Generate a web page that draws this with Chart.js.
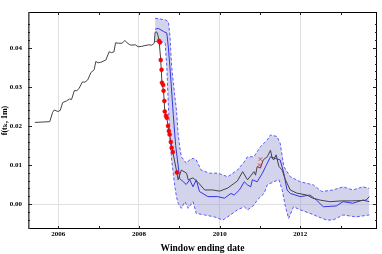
<!DOCTYPE html>
<html>
<head>
<meta charset="utf-8">
<script src="https://cdn.jsdelivr.net/npm/chart.js@4"></script>
<style>
  html, body { margin:0; padding:0; background:#fff; }
  #wrap { width:382px; height:254px; }
</style>
</head>
<body>
<div id="wrap"><canvas id="c" width="382" height="254"></canvas></div>
<script>
// black line: f(t_k, 1m)
const blackX = [2005.42,2005.60,2005.79,2005.86,2005.90,2005.99,2006.05,2006.11,2006.20,2006.28,2006.33,2006.40,2006.46,2006.52,2006.60,2006.66,2006.73,2006.81,2006.89,2006.93,2006.99,2007.05,2007.18,2007.26,2007.32,2007.38,2007.42,2007.50,2007.58,2007.65,2007.73,2007.80,2007.91,2007.98,2008.07,2008.15,2008.24,2008.32,2008.38,2008.40,2008.44,2008.47,2008.50,2008.54,2008.57,2008.61,2008.64,2008.69,2008.74,2008.79,2008.84,2008.94,2008.97,2009.05,2009.18,2009.22,2009.34,2009.46,2009.63,2009.83,2010.00,2010.20,2010.36,2010.44,2010.57,2010.69,2010.85,2010.89,2010.93,2011.01,2011.08,2011.18,2011.26,2011.30,2011.34,2011.40,2011.47,2011.55,2011.63,2011.75,2011.91,2012.16,2012.31,2012.49,2012.73,2013.02,2013.26,2013.51,2013.63,2013.71];
const blackY = [0.0209,0.0210,0.0211,0.0235,0.0241,0.0237,0.0240,0.0260,0.0264,0.0269,0.0268,0.0291,0.0290,0.0297,0.0313,0.0312,0.0318,0.0337,0.0344,0.0365,0.0362,0.0363,0.0369,0.0390,0.0388,0.0390,0.0413,0.0412,0.0412,0.0419,0.0411,0.0407,0.0408,0.0403,0.0404,0.0406,0.0408,0.0407,0.0412,0.0440,0.0441,0.0433,0.0418,0.0369,0.0311,0.0290,0.0237,0.0221,0.0187,0.0159,0.0133,0.0081,0.0062,0.0087,0.0079,0.0062,0.0067,0.0056,0.0036,0.0036,0.0033,0.0041,0.0053,0.0059,0.0083,0.0062,0.0083,0.0074,0.0096,0.0092,0.0113,0.0121,0.0138,0.0118,0.0113,0.0126,0.0096,0.0087,0.0062,0.0036,0.0028,0.0023,0.0015,0.0010,0.0006,0.0008,0.0008,0.0009,0.0010,0.0019];

// blue centre line
const blueX = [2008.40,2008.48,2008.61,2008.69,2008.73,2008.79,2008.85,2008.91,2008.97,2009.01,2009.10,2009.17,2009.26,2009.34,2009.42,2009.50,2009.71,2009.95,2010.12,2010.28,2010.36,2010.49,2010.61,2010.69,2010.77,2010.81,2010.93,2011.06,2011.14,2011.26,2011.38,2011.50,2011.59,2011.67,2011.75,2012.00,2012.24,2012.40,2012.57,2012.89,2013.06,2013.30,2013.55,2013.71];
const blueY = [0.0448,0.0450,0.0442,0.0438,0.0400,0.0320,0.0230,0.0150,0.0100,0.0065,0.0057,0.0050,0.0062,0.0044,0.0062,0.0032,0.0019,0.0019,0.0015,0.0027,0.0023,0.0036,0.0057,0.0049,0.0044,0.0062,0.0057,0.0079,0.0096,0.0121,0.0117,0.0113,0.0079,0.0036,0.0027,0.0019,0.0023,0.0010,-0.0007,-0.0005,0.0006,0.0002,0.0010,0.0006];

// band upper edge
const upperX = [2008.40,2008.52,2008.65,2008.73,2008.77,2008.81,2008.89,2008.93,2008.97,2009.01,2009.05,2009.18,2009.24,2009.34,2009.42,2009.54,2009.75,2009.95,2010.20,2010.44,2010.61,2010.69,2010.85,2011.01,2011.18,2011.26,2011.42,2011.50,2011.59,2011.75,2012.00,2012.32,2012.53,2012.81,2013.06,2013.30,2013.55,2013.71];
const upperY = [0.0476,0.0474,0.0472,0.0467,0.0429,0.0352,0.0275,0.0241,0.0181,0.0147,0.0121,0.0104,0.0112,0.0117,0.0113,0.0087,0.0079,0.0079,0.0070,0.0087,0.0108,0.0121,0.0121,0.0147,0.0164,0.0177,0.0173,0.0156,0.0096,0.0070,0.0057,0.0049,0.0032,0.0036,0.0044,0.0036,0.0044,0.0040];

// band lower edge
const lowerX = [2008.40,2008.56,2008.65,2008.69,2008.73,2008.77,2008.81,2008.85,2008.89,2008.93,2008.97,2009.05,2009.14,2009.22,2009.34,2009.42,2009.63,2009.87,2010.08,2010.20,2010.44,2010.61,2010.69,2010.85,2010.93,2011.10,2011.18,2011.34,2011.47,2011.55,2011.63,2011.71,2011.83,2012.00,2012.24,2012.45,2012.65,2012.81,2013.06,2013.38,2013.71];
const lowerY = [0.0416,0.0416,0.0412,0.0352,0.0250,0.0164,0.0113,0.0079,0.0044,0.0019,0.0002,-0.0011,0.0006,-0.0011,0.0006,-0.0024,-0.0028,-0.0033,-0.0041,-0.0033,-0.0015,-0.0007,-0.0015,-0.0003,0.0010,0.0027,0.0049,0.0057,0.0062,0.0036,-0.0007,-0.0037,-0.0007,-0.0015,-0.0024,-0.0033,-0.0041,-0.0041,-0.0028,-0.0033,-0.0028];

// red dots
const redX = [2008.50,2008.52,2008.54,2008.56,2008.57,2008.60,2008.61,2008.63,2008.64,2008.67,2008.69,2008.72,2008.74,2008.76,2008.79,2008.81,2008.84,2008.94];
const redY = [0.0418,0.0414,0.0369,0.0344,0.0311,0.0305,0.0290,0.0264,0.0237,0.0226,0.0221,0.0200,0.0187,0.0178,0.0159,0.0144,0.0133,0.0081];

// red crosses near 2011
const crossX = [2011.01,2010.99];
const crossY = [0.0115,0.0100];

const xTickYears = [2006,2007,2008,2009,2010,2011,2012,2013];

const pts = (xs, ys) => xs.map((x,i) => ({ x, y: ys[i] }));
const isMult = (v, s) => Math.abs(v/s - Math.round(v/s)) < 1e-6;

const SERIF = '"Liberation Serif", "DejaVu Serif", serif';

// frame with inward ticks, Mathematica style
const frame = {
    id: 'frame',
    afterDatasetsDraw(chart) {
        const { ctx, chartArea: a, scales: { x, y } } = chart;
        ctx.save();
        ctx.strokeStyle = '#000';
        ctx.lineWidth = 1;
        ctx.beginPath();
        ctx.moveTo(a.left, a.top + 0.5); ctx.lineTo(a.right, a.top + 0.5);
        ctx.moveTo(a.right - 0.5, a.top); ctx.lineTo(a.right - 0.5, a.bottom);
        ctx.moveTo(a.left, a.bottom - 0.5); ctx.lineTo(a.right, a.bottom - 0.5);
        ctx.stroke();
        ctx.strokeStyle = '#555';
        ctx.lineWidth = 1.6;
        ctx.beginPath();
        ctx.moveTo(a.left + 0.8, a.top); ctx.lineTo(a.left + 0.8, a.bottom);
        ctx.stroke();

        ctx.strokeStyle = '#222';
        ctx.lineWidth = 1;
        ctx.beginPath();
        y.ticks.forEach(t => {
            if (!isMult(t.value, 0.002)) return;
            const py = Math.round(y.getPixelForValue(t.value)) + 0.5;
            const len = isMult(t.value, 0.01) ? 4 : 2;
            ctx.moveTo(a.left, py); ctx.lineTo(a.left + len, py);
            ctx.moveTo(a.right, py); ctx.lineTo(a.right - len, py);
        });
        xTickYears.forEach(v => {
            const px = Math.round(x.getPixelForValue(v)) + 0.5;
            ctx.moveTo(px, a.bottom); ctx.lineTo(px, a.bottom - 3);
            ctx.moveTo(px, a.top); ctx.lineTo(px, a.top + 3);
        });
        ctx.stroke();
        ctx.restore();
    }
};

new Chart(document.getElementById('c'), {
    type: 'scatter',
    data: {
        datasets: [
            { label:'red', data: pts(redX, redY), showLine:false, pointRadius:2, pointBackgroundColor:'#ff0000', pointBorderColor:'#ee0000', pointBorderWidth:0.5 },
            { label:'cross', data: pts(crossX, crossY), showLine:false, pointStyle:'crossRot', pointRadius:2.5, pointBorderColor:'#ff4040', pointBorderWidth:1 },
            { label:'black', data: pts(blackX, blackY), showLine:true, borderColor:'#444', borderWidth:1, pointRadius:0, tension:0 },
            { label:'blue', data: pts(blueX, blueY), showLine:true, borderColor:'#3535e0', borderWidth:1, pointRadius:0, tension:0 },
            { label:'upper', data: pts(upperX, upperY), showLine:true, borderColor:'#5a5aff', borderWidth:1, borderDash:[3,2], pointRadius:0, tension:0,
              fill:'+1', backgroundColor:'rgba(150,150,210,0.42)' },
            { label:'lower', data: pts(lowerX, lowerY), showLine:true, borderColor:'#5a5aff', borderWidth:1, borderDash:[3,2], pointRadius:0, tension:0 },
        ]
    },
    options: {
        responsive:false, animation:false,
        layout:{ padding:{ top:12, right:1, left:0, bottom:0 } },
        plugins:{ legend:{ display:false }, tooltip:{ enabled:false }, filler:{ drawTime:'beforeDatasetsDraw' } },
        scales:{
            x:{
                type:'linear', min:2005.25, max:2013.9,
                afterBuildTicks: s => { s.ticks = xTickYears.map(v => ({ value:v })); },
                afterFit: s => { s.height = 25; },
                ticks:{ autoSkip:false, maxRotation:0, padding:1, color:'#000',
                    font:{ family:SERIF, size:7, weight:'bold' },
                    callback: v => (v % 2 === 0 ? String(v) : '') },
                grid:{ drawTicks:false, color: c => (c.tick && c.tick.value % 2 === 0 ? '#e0e0e0' : 'rgba(0,0,0,0)') },
                border:{ display:false },
                title:{ display:true, text:'Window ending date', color:'#000', padding:0,
                    font:{ family:SERIF, size:9.5, weight:'bold' } }
            },
            y:{
                min:-0.0064, max:0.0492,
                afterFit: s => { s.width = 28; },
                ticks:{ stepSize:0.002, autoSkip:false, padding:6, color:'#000',
                    font:{ family:SERIF, size:7, weight:'bold' },
                    callback: v => (isMult(v, 0.01) ? (Math.abs(v) < 1e-9 ? 0 : v).toFixed(2) : '') },
                grid:{ drawTicks:false, color: c => (c.tick && Math.abs(c.tick.value) < 1e-9 ? '#e0e0e0' : 'rgba(0,0,0,0)') },
                border:{ display:false },
                title:{ display:true, text:'f(tₖ, 1m)', color:'#000', padding:0,
                    font:{ family:SERIF, size:8, weight:'bold' } }
            }
        }
    },
    plugins:[frame]
});
</script>
</body>
</html>
